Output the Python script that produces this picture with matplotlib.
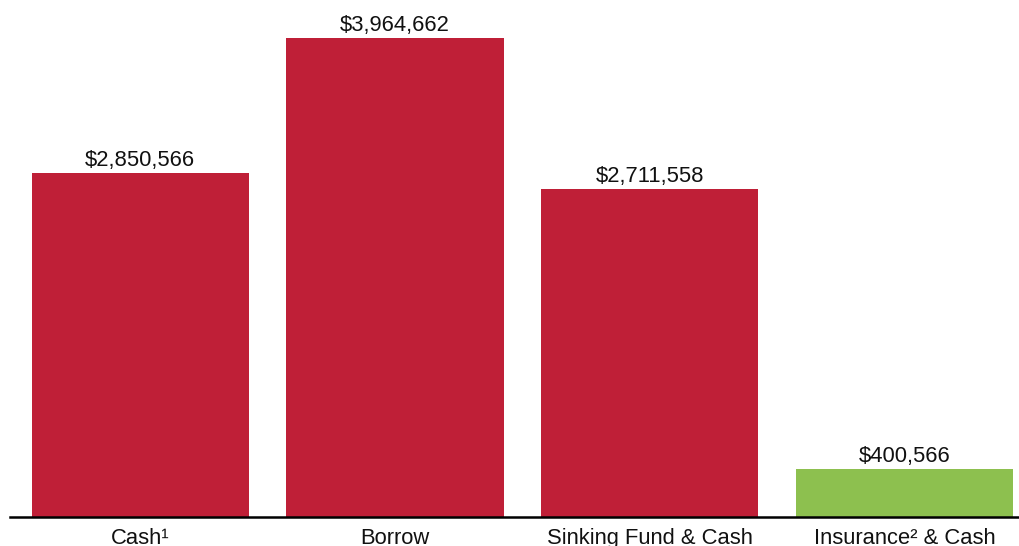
import matplotlib
matplotlib.use("Agg")
import matplotlib.pyplot as plt

categories = ["Cash¹", "Borrow", "Sinking Fund & Cash", "Insurance² & Cash"]
values = [2850566, 3964662, 2711558, 400566]
colors = ["#BF1F37", "#BF1F37", "#BF1F37", "#8DC04F"]

plt.rcParams['font.family'] = ['Liberation Sans', 'DejaVu Sans']

fig = plt.figure(figsize=(10.19, 5.46), dpi=100)
ax = fig.add_axes([10/1019, 29/546, 1 - 10/1019, 1 - 29/546])

x = list(range(len(categories)))
ax.bar(x, values, width=0.853, color=colors)
slot = 254.5
ax.set_xlim(-0.5 - 3/slot, 3 + (1019 - 904.5)/slot)
ax.set_ylim(0, 4279000)

for xi, v in zip(x, values):
    ax.annotate(f"${v:,}", (xi, v), xytext=(0, 5), textcoords="offset points",
                ha="center", va="baseline", fontsize=15.8, color="#111111")

ax.set_xticks(x)
ax.set_xticklabels(categories, fontsize=15.8, color="#111111")
ax.tick_params(axis="x", length=0, pad=8)
ax.set_yticks([])
for s in ["top", "right", "left"]:
    ax.spines[s].set_visible(False)
ax.spines["bottom"].set_linewidth(1.8)
ax.spines["bottom"].set_color("black")

fig.savefig("out.png", dpi=100)
